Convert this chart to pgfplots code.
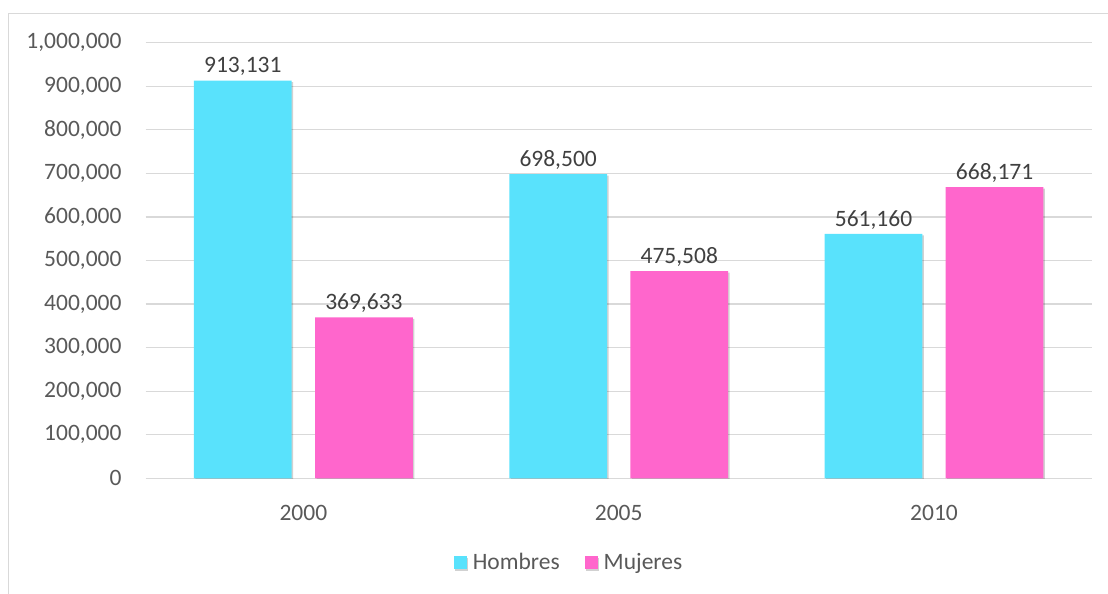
\documentclass[border=0pt]{standalone}
\usepackage{pgfplots}
\pgfplotsset{compat=1.18}
\usepackage{pgfplotstable}
\usepackage{fontspec}
\setmainfont{Carlito}
\usetikzlibrary{shadows}
\definecolor{hom}{HTML}{59E2FC}
\definecolor{muj}{HTML}{FF66CC}
\definecolor{txt}{HTML}{595959}
\definecolor{lbl}{HTML}{404040}
\definecolor{gridc}{HTML}{D9D9D9}
\pgfplotstableread{
x hom muj homl mujl
0 913131 369633 913,131 369,633
1 698500 475508 698,500 475,508
2 561160 668171 561,160 668,171
}\datatab
\newcommand\fs{\fontsize{23.5bp}{28bp}\selectfont}
\begin{document}
\fs
\begin{tikzpicture}[x=1bp,y=1bp]
\useasboundingbox (0,0) rectangle (1108,594);
\draw[gridc, line width=1.3bp] (8.5,-5) -- (8.5,580.5) -- (1115,580.5);
\begin{axis}[
  at={(145.7bp,115.7bp)}, anchor=south west,
  scale only axis, width=946bp, height=435.6bp,
  xmin=-0.5, xmax=2.5, ymin=0, ymax=1000000,
  ybar, bar width=0.31,
  xtick={0,1,2}, xticklabels={2000,2005,2010},
  ytick={0,100000,...,1000000},
  scaled y ticks=false,
  yticklabel={\pgfmathprintnumber[fixed,precision=0,1000 sep={,}]{\tick}},
  /pgf/number format/assume math mode=true,
  axis line style={draw=none},
  tick style={draw=none},
  ymajorgrids, grid style={gridc, line width=1.3bp},
  ticklabel style={font=\fs, text=txt},
  yticklabel style={anchor=east, inner sep=0pt, xshift=-24bp},
  xticklabel style={anchor=north, inner sep=0pt, yshift=-23bp},
  point meta=explicit symbolic,
  nodes near coords,
  nodes near coords style={font=\fs, text=lbl, anchor=base, inner sep=0pt, yshift=7.7bp},
  legend columns=2,
  legend style={at={(0.4475,-0.1944)}, anchor=center, draw=none, fill=none,
    font=\fs, text=txt,
    /tikz/every even column/.append style={column sep=23bp}},
  legend cell align=left,
]
\addplot[fill=hom, draw=none, bar shift=-0.192,
  drop shadow={shadow xshift=1.5bp, shadow yshift=-1.5bp, fill=black, opacity=0.18},
  legend image code/.code={\fill[hom] (0bp,-6.5bp) rectangle (13bp,6.5bp); \path (17bp,0bp);}]
  table[x=x, y=hom, meta=homl] {\datatab};
\addplot[fill=muj, draw=none, bar shift=0.192,
  drop shadow={shadow xshift=1.5bp, shadow yshift=-1.5bp, fill=black, opacity=0.18},
  legend image code/.code={\fill[muj] (0bp,-6.5bp) rectangle (13bp,6.5bp); \path (17bp,0bp);}]
  table[x=x, y=muj, meta=mujl] {\datatab};
\legend{Hombres, Mujeres}
\end{axis}
\end{tikzpicture}
\end{document}
